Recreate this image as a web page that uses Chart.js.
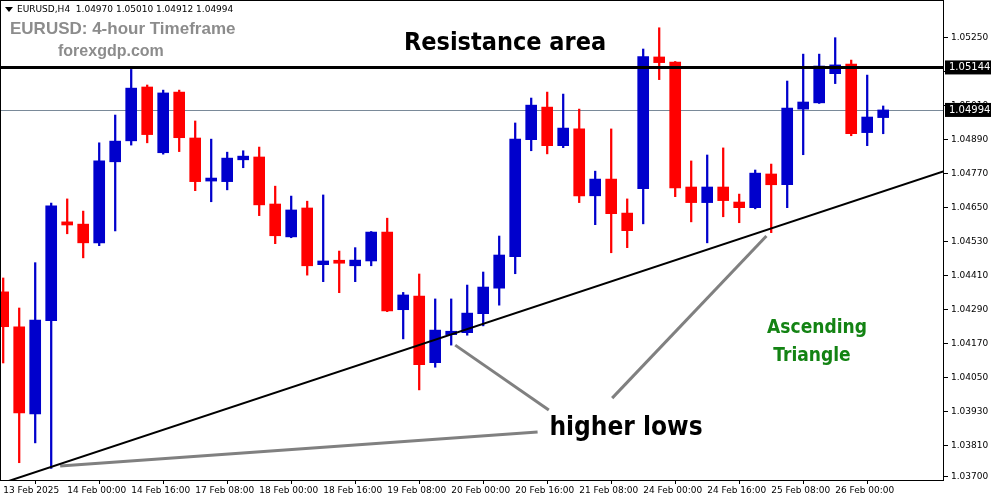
<!DOCTYPE html>
<html>
<head>
<meta charset="utf-8">
<script src="https://cdn.jsdelivr.net/npm/chart.js@4.4.1/dist/chart.umd.min.js"></script>
<style>
  html, body { margin: 0; padding: 0; background: #fff; }
  #wrap { width: 991px; height: 501px; }
</style>
</head>
<body>
<div id="wrap"><canvas id="chart"></canvas></div>
<script>
// * Candle data (EURUSD H4)
const opens = [1.04352,1.04229,1.03921,1.04250,1.04599,1.04591,1.04525,1.04811,1.04885,1.05075,
  1.04843,1.05057,1.04895,1.04743,1.04741,1.04818,1.04828,1.04662,1.04546,1.04648,
  1.04448,1.04458,1.04444,1.04461,1.04563,1.04289,1.04337,1.04102,1.04201,1.04208,
  1.04275,1.04365,1.04476,1.04889,1.05004,1.04868,1.04927,1.04691,1.04750,1.04630,
  1.04716,1.05181,1.05163,1.04722,1.04667,1.04722,1.04669,1.04649,1.04768,1.04730,
  1.04997,1.05019,1.05122,1.05156,1.04914,1.04967];
const highs = [1.04401,1.04295,1.04455,1.04665,1.04680,1.04637,1.04878,1.04976,1.05137,1.05082,
  1.05064,1.05064,1.04955,1.04891,1.04845,1.04850,1.04863,1.04725,1.04690,1.04672,
  1.04694,1.04496,1.04508,1.04565,1.04612,1.04350,1.04415,1.04327,1.04327,1.04376,
  1.04422,1.04549,1.04948,1.05036,1.05057,1.05050,1.04997,1.04778,1.04927,1.04680,
  1.05209,1.05284,1.05165,1.04814,1.04835,1.04860,1.04697,1.04782,1.04803,1.05096,
  1.05191,1.05191,1.05249,1.05170,1.05117,1.05008];
const lows = [1.04101,1.03749,1.03819,1.03729,1.04557,1.04472,1.04515,1.04567,1.04870,1.04878,
  1.04838,1.04847,1.04709,1.04670,1.04712,1.04790,1.04621,1.04522,1.04543,1.04411,
  1.04388,1.04349,1.04388,1.04444,1.04282,1.04186,1.04006,1.04086,1.04164,1.04199,
  1.04232,1.04305,1.04416,1.04850,1.04839,1.04861,1.04667,1.04589,1.04490,1.04508,
  1.04592,1.05101,1.04688,1.04599,1.04525,1.04617,1.04596,1.04645,1.04561,1.04649,
  1.04836,1.05017,1.05087,1.04903,1.04868,1.04910];
const closes = [1.04229,1.03925,1.04252,1.04656,1.04588,1.04525,1.04814,1.04884,1.05071,1.04907,
  1.05054,1.04896,1.04741,1.04745,1.04824,1.04831,1.04659,1.04550,1.04641,1.04444,
  1.04461,1.04453,1.04464,1.04563,1.04285,1.04341,1.04095,1.04217,1.04213,1.04277,
  1.04369,1.04482,1.04891,1.05011,1.04868,1.04930,1.04691,1.04750,1.04628,1.04568,
  1.05182,1.05161,1.04719,1.04667,1.04722,1.04674,1.04649,1.04771,1.04730,1.05001,
  1.05022,1.05149,1.05153,1.04910,1.04969,1.04994];

const dateLabels = ['13 Feb 2025','14 Feb 00:00','14 Feb 16:00','17 Feb 08:00','18 Feb 00:00',
  '18 Feb 16:00','19 Feb 08:00','20 Feb 00:00','20 Feb 16:00','21 Feb 08:00',
  '24 Feb 00:00','24 Feb 16:00','25 Feb 08:00','26 Feb 00:00'];
const priceTicks = [1.0525,1.0513,1.0501,1.0489,1.0477,1.0465,1.0453,1.0441,1.0429,1.0417,1.0405,1.0393,1.0381,1.0370];

const resistance = 1.05144;
const lastPrice = 1.04994;
const trendLine = [{x: 0.1, y: 1.0368}, {x: 58.8, y: 1.04778}];
const arrows = [
  [{x: 34.1, y: 1.03935}, {x: 28.25, y: 1.04164}],
  [{x: 33.4, y: 1.03857}, {x: 3.56, y: 1.03737}],
  [{x: 38.06, y: 1.03977}, {x: 47.7, y: 1.04549}]
];

const RED = '#ff0000', BLUE = '#0000cc';
const idx = opens.map((_, i) => i);
const colors = idx.map(i => closes[i] >= opens[i] ? BLUE : RED);

const datasets = [
  {
    type: 'bar', label: 'wick', order: 2,
    data: idx.map(i => ({x: i, y: [lows[i], highs[i]]})),
    backgroundColor: colors, barThickness: 1.6, grouped: false
  },
  {
    type: 'bar', label: 'body', order: 1,
    data: idx.map(i => ({x: i, y: [opens[i], closes[i]]})),
    backgroundColor: colors, barThickness: 11, minBarLength: 3, grouped: false
  },
  {
    type: 'line', label: 'trend', order: 0,
    data: trendLine, borderColor: '#000', borderWidth: 2, pointRadius: 0
  }
];
arrows.forEach(a => datasets.push({
  type: 'line', label: 'arrow', order: 0,
  data: a, borderColor: '#808080', borderWidth: 3, pointRadius: 0
}));

// * Overlay: price lines, boxes, texts
const overlay = {
  id: 'overlay',
  beforeDatasetsDraw(chart) {
    const {ctx, chartArea: ca, scales: {y}} = chart;
    ctx.save();
    let yy = Math.round(y.getPixelForValue(lastPrice)) + 0.5;
    ctx.strokeStyle = '#7a8a99'; ctx.lineWidth = 1;
    ctx.beginPath(); ctx.moveTo(ca.left, yy); ctx.lineTo(ca.right, yy); ctx.stroke();
    ctx.restore();
  },
  afterDraw(chart) {
    const {ctx, chartArea: ca, scales: {y}} = chart;
    ctx.save();
    const ry = y.getPixelForValue(resistance);
    ctx.strokeStyle = '#000'; ctx.lineWidth = 3;
    ctx.beginPath(); ctx.moveTo(ca.left, ry); ctx.lineTo(ca.right, ry); ctx.stroke();

    ctx.strokeStyle = '#000'; ctx.lineWidth = 1;
    ctx.strokeRect(ca.left + 0.5, ca.top + 0.5, ca.right - ca.left - 1, ca.bottom - ca.top);

    ctx.font = '10px "DejaVu Sans"';
    ctx.textBaseline = 'middle';
    [resistance, lastPrice].forEach(v => {
      const py = y.getPixelForValue(v);
      ctx.fillStyle = '#000';
      ctx.fillRect(ca.right + 1, py - 7, 46, 14);
      ctx.fillStyle = '#fff';
      ctx.textAlign = 'left';
      ctx.fillText(v.toFixed(5), ca.right + 5, py);
    });

    // header
    ctx.fillStyle = '#000';
    ctx.beginPath(); ctx.moveTo(5, 7); ctx.lineTo(13, 7); ctx.lineTo(9, 12); ctx.fill();
    ctx.font = '9px "DejaVu Sans"';
    ctx.fillText('EURUSD,H4  1.04970 1.05010 1.04912 1.04994', 17, 10);
    ctx.fillStyle = '#8c8c8c';
    ctx.font = 'bold 17px "Liberation Sans"';
    ctx.fillText('EURUSD: 4-hour Timeframe', 10, 29);
    ctx.font = 'bold 16px "Liberation Sans"';
    ctx.fillText('forexgdp.com', 58, 52);

    ctx.fillStyle = '#000';
    ctx.textAlign = 'center';
    ctx.font = 'bold 25px "DejaVu Sans Condensed"';
    ctx.fillText('Resistance area', 505, 43);
    ctx.font = 'bold 26px "DejaVu Sans Condensed"';
    ctx.fillText('higher lows', 626, 428);
    ctx.fillStyle = '#138313';
    ctx.font = 'bold 19px "DejaVu Sans Condensed"';
    ctx.fillText('Ascending', 817, 328);
    ctx.fillText('Triangle', 812, 356);
    ctx.restore();
  }
};

new Chart(document.getElementById('chart'), {
  data: {datasets},
  options: {
    responsive: true, maintainAspectRatio: false, animation: false,
    layout: {padding: 0},
    plugins: {legend: {display: false}, tooltip: {enabled: false}},
    scales: {
      x: {
        type: 'linear', min: -0.2, max: 58.8, offset: false,
        grid: {display: true, drawOnChartArea: false, tickLength: 4, color: '#000'},
        border: {display: false},
        afterBuildTicks: s => { s.ticks = dateLabels.map((_, i) => ({value: i * 4})); },
        afterFit: s => { s.height = 21; s.paddingLeft = 0; s.paddingRight = 0; },
        ticks: {
          autoSkip: false, maxRotation: 0, align: 'start', padding: 1,
          color: '#000', font: {family: 'DejaVu Sans', size: 9},
          callback: (v) => dateLabels[v / 4]
        }
      },
      y: {
        position: 'right', min: 1.03688, max: 1.05382,
        grid: {display: true, drawOnChartArea: false, tickLength: 4, color: '#000'},
        border: {display: false},
        afterBuildTicks: s => { s.ticks = priceTicks.map(v => ({value: v})); },
        afterFit: s => { s.width = 47; s.paddingTop = 0; s.paddingBottom = 0; },
        ticks: {
          autoSkip: false, padding: 3, color: '#000',
          font: {family: 'DejaVu Sans', size: 9},
          callback: v => v.toFixed(5)
        }
      }
    }
  },
  plugins: [overlay]
});
</script>
</body>
</html>
